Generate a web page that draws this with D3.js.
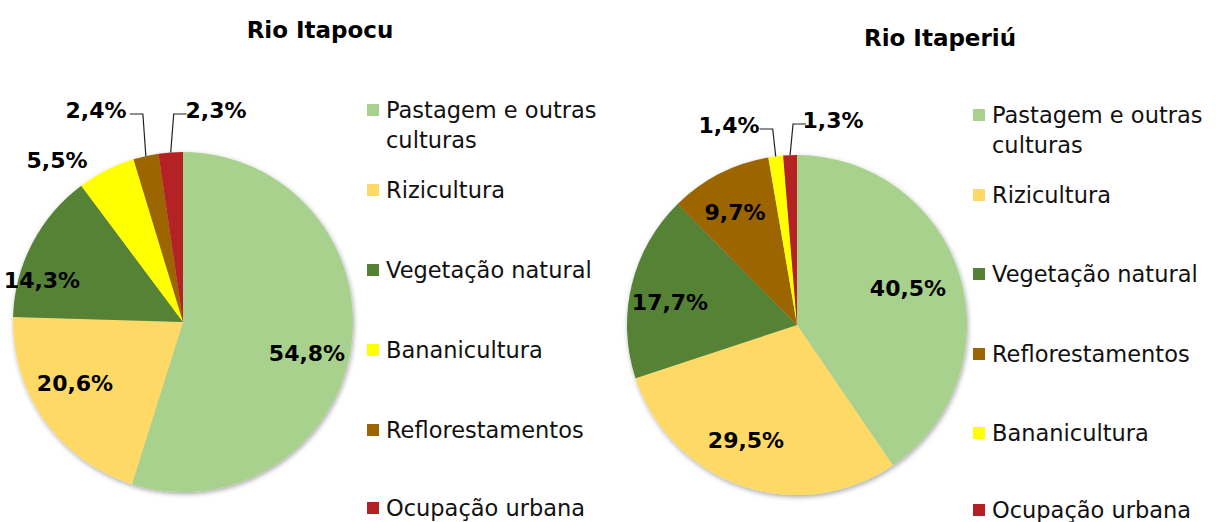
<!DOCTYPE html>
<html>
<head>
<meta charset="utf-8">
<script src="https://cdn.jsdelivr.net/npm/d3@7"></script>
<style>
  html, body { margin: 0; padding: 0; background: #fff; }
  svg { display: block; font-family: "Century Gothic", "DejaVu Sans", sans-serif; }
</style>
</head>
<body>
<div id="chart"></div>
<script>
'use strict';

// categories and values
var itapocuCategories = ["Pastagem e outras culturas", "Rizicultura", "Vegetação natural",
                         "Bananicultura", "Reflorestamentos", "Ocupação urbana"];
var itapocuValues = [54.8, 20.6, 14.3, 5.5, 2.4, 2.3];

var itaperiuCategories = ["Pastagem e outras culturas", "Rizicultura", "Vegetação natural",
                          "Reflorestamentos", "Bananicultura", "Ocupação urbana"];
var itaperiuValues = [40.5, 29.5, 17.7, 9.7, 1.4, 1.3];

var colors = {
    "Pastagem e outras culturas": "#a9d18e",
    "Rizicultura": "#ffd966",
    "Vegetação natural": "#548235",
    "Bananicultura": "#ffff00",
    "Reflorestamentos": "#9c6500",
    "Ocupação urbana": "#b52025"
};

(function() {
    var W = 1218, H = 522;

    var svg = d3.select("#chart").append("svg")
        .attr("width", W)
        .attr("height", H);

    var defs = svg.append("defs");
    var f = defs.append("filter").attr("id", "shadow")
        .attr("x", "-10%").attr("y", "-10%").attr("width", "120%").attr("height", "120%");
    f.append("feDropShadow")
        .attr("dx", 1).attr("dy", 2)
        .attr("stdDeviation", 2.5)
        .attr("flood-color", "#000")
        .attr("flood-opacity", 0.35);

    // label placement (offset from pie centre) and which ones use a leader line
    var itapocuLayout = {
        cx: 183, cy: 322, r: 170,
        title: "Rio Itapocu", titleX: 320, titleY: 30,
        labels: [[124, 31], [-108, 61], [-141, -42], [-126, -162], [-87, -212], [33, -212]],
        leader: [false, false, false, false, "left", "right"],
        legendX: 367, legendY: [110, 190, 270, 350, 430, 508]
    };
    var itaperiuLayout = {
        cx: 797, cy: 325, r: 170,
        title: "Rio Itaperiú", titleX: 940, titleY: 38,
        labels: [[111, -37], [-51, 115], [-127, -23], [-62, -113], [-68, -200], [36, -205]],
        leader: [false, false, false, false, "left", "right"],
        legendX: 973, legendY: [115, 195, 274, 354, 433, 510]
    };

    drawPie(itapocuCategories, itapocuValues, itapocuLayout);
    drawPie(itaperiuCategories, itaperiuValues, itaperiuLayout);

    function fmt(v) {
        return v.toFixed(1).replace(".", ",") + "%";
    }

    function drawPie(categories, values, L) {
        var data = categories.map(function(c, i) { return { name: c, value: values[i] }; });

        var pie = d3.pie().sort(null).value(function(d) { return d.value; });
        var arcs = pie(data);
        var arc = d3.arc().innerRadius(0).outerRadius(L.r);

        svg.append("text")
            .attr("x", L.titleX).attr("y", L.titleY)
            .attr("text-anchor", "middle")
            .attr("dominant-baseline", "central")
            .style("font-size", "23px")
            .style("font-weight", "bold")
            .text(L.title);

        var g = svg.append("g")
            .attr("transform", "translate(" + L.cx + "," + L.cy + ")");

        g.append("g").attr("filter", "url(#shadow)")
            .selectAll("path")
            .data(arcs)
            .enter()
            .append("path")
            .attr("d", arc)
            .attr("fill", function(d) { return colors[d.data.name]; });

        // leader lines for the small slices
        arcs.forEach(function(d, i) {
            if (!L.leader[i]) return;
            var a = (d.startAngle + d.endAngle) / 2;
            var px = L.r * Math.sin(a), py = -L.r * Math.cos(a);
            var ly = L.labels[i][1] + 4;
            var side = L.leader[i] === "left" ? -1 : 1;
            var kneeX = px + side * 3;
            var endX = kneeX + side * 13;
            g.append("path")
                .attr("d", "M" + px + "," + py + "L" + kneeX + "," + ly + "L" + endX + "," + ly)
                .attr("fill", "none")
                .attr("stroke", "#222")
                .attr("stroke-width", 1.2);
        });

        g.selectAll("text.lbl")
            .data(arcs)
            .enter()
            .append("text")
            .attr("class", "lbl")
            .attr("x", function(d, i) { return L.labels[i][0]; })
            .attr("y", function(d, i) { return L.labels[i][1]; })
            .attr("text-anchor", "middle")
            .attr("dominant-baseline", "central")
            .style("font-size", "22px")
            .style("font-weight", "bold")
            .attr("fill", "#000")
            .text(function(d) { return fmt(d.data.value); });

        // legend
        var lg = svg.append("g");
        data.forEach(function(d, i) {
            var y = L.legendY[i];
            lg.append("rect")
                .attr("x", L.legendX).attr("y", y - 6)
                .attr("width", 12).attr("height", 12)
                .attr("fill", colors[d.name]);
            var t = lg.append("text")
                .attr("x", L.legendX + 19)
                .attr("y", y)
                .attr("dominant-baseline", "central")
                .style("font-size", "22.5px")
                .attr("fill", "#111");
            if (d.name === "Pastagem e outras culturas") {
                t.append("tspan").attr("x", L.legendX + 19).attr("y", y).text("Pastagem e outras");
                t.append("tspan").attr("x", L.legendX + 19).attr("y", y + 30).text("culturas");
            } else {
                t.text(d.name);
            }
        });
    }
})();
</script>
</body>
</html>
